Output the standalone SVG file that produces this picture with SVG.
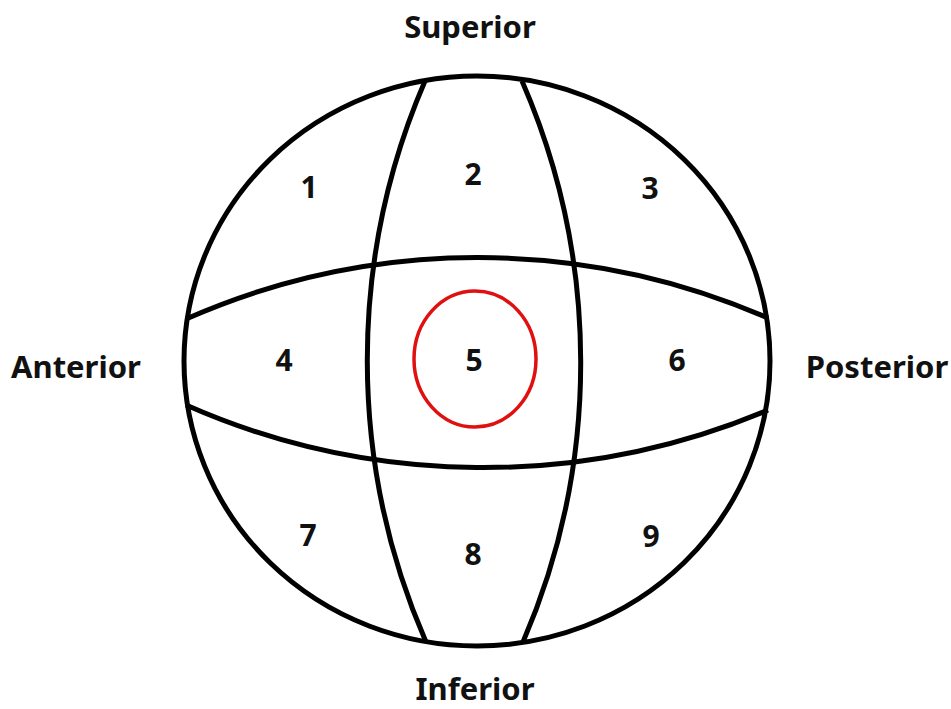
<svg xmlns="http://www.w3.org/2000/svg" width="951" height="709" viewBox="0 0 951 709">
<style>
.ln{fill:none;stroke:#000;stroke-width:5}
.num{font-family:"Noto Sans","Open Sans",sans-serif;font-weight:bold;font-size:30px;fill:#111;text-anchor:middle}
.lbl{font-family:"Noto Sans","Open Sans",sans-serif;font-weight:bold;font-size:31px;fill:#111;text-anchor:middle}
</style>
<rect width="951" height="709" fill="#fff"/>
<g id="globe">
<ellipse class="ln" cx="477" cy="361" rx="293" ry="285"/>
</g>
<g id="connectors">
<path class="ln" d="M186,319 A725,725 0 0 1 768,318"/>
<path class="ln" d="M186,405 A735,735 0 0 0 768,410"/>
<path class="ln" d="M425,81 A705,705 0 0 0 426,642"/>
<path class="ln" d="M522,81 A705,705 0 0 1 523,642"/>
</g>
<g id="target">
<ellipse cx="475" cy="359" rx="61" ry="68" fill="none" stroke="#e01010" stroke-width="3.5"/>
</g>
<g id="n1"><text class="num" x="309" y="198">1</text></g>
<g id="n2"><text class="num" x="473" y="185">2</text></g>
<g id="n3"><text class="num" x="650" y="199">3</text></g>
<g id="n4"><text class="num" x="284" y="371">4</text></g>
<g id="n5"><text class="num" x="474" y="371">5</text></g>
<g id="n6"><text class="num" x="677" y="371">6</text></g>
<g id="n7"><text class="num" x="308" y="546">7</text></g>
<g id="n8"><text class="num" x="473" y="565">8</text></g>
<g id="n9"><text class="num" x="651" y="547">9</text></g>
<g id="superior"><text class="lbl" x="470" y="38">Superior</text></g>
<g id="anterior"><text class="lbl" x="76" y="378">Anterior</text></g>
<g id="posterior"><text class="lbl" x="877" y="378">Posterior</text></g>
<g id="inferior"><text class="lbl" x="475" y="700">Inferior</text></g>
</svg>
